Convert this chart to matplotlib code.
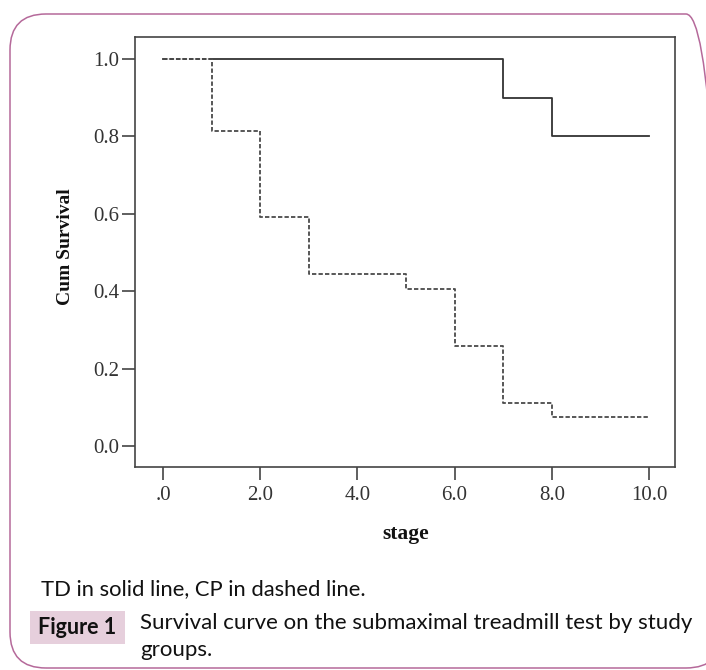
import matplotlib
matplotlib.use('Agg')
import matplotlib.pyplot as plt
from matplotlib.patches import FancyBboxPatch, Rectangle

# Kaplan-Meier steps (stage, cumulative survival)
td_stage = [0, 7, 8, 10]
td_surv = [1.0, 0.9, 0.8, 0.8]
cp_stage = [0, 1, 2, 3, 5, 6, 7, 8, 10]
cp_surv = [1.0, 0.815, 0.593, 0.444, 0.407, 0.259, 0.111, 0.074, 0.074]

x_ticks = [0, 2, 4, 6, 8, 10]
x_labels = ['.0', '2.0', '4.0', '6.0', '8.0', '10.0']
y_ticks = [0.0, 0.2, 0.4, 0.6, 0.8, 1.0]
y_labels = ['0.0', '0.2', '0.4', '0.6', '0.8', '1.0']

W, H = 706, 670
fig = plt.figure(figsize=(W / 100, H / 100), dpi=100)
ax = fig.add_axes([135 / W, (H - 467) / H, 540 / W, 430 / H])

ax.step(td_stage, td_surv, where='post', color='#333333', lw=1.3, zorder=2)
# dashed curve drawn on top, gaps in white like the SPSS output
ax.step(cp_stage, cp_surv, where='post', color='#4a4a4a', lw=1.3,
        linestyle=(0, (2.4, 1.2)), gapcolor='white', zorder=3)

ax.set_xlim(-0.576, 10.535)
ax.set_ylim(-0.054, 1.057)
ax.set_xticks(x_ticks)
ax.set_xticklabels(x_labels)
ax.set_yticks(y_ticks)
ax.set_yticklabels(y_labels)
for s in ax.spines.values():
    s.set_color('#444444')
    s.set_linewidth(1.2)
ax.tick_params(direction='out', length=9.5, width=1.2, color='#444444',
               labelsize=15, labelcolor='#333333')
ax.tick_params(axis='x', pad=4)
ax.tick_params(axis='y', pad=2)
for lab in ax.get_xticklabels() + ax.get_yticklabels():
    lab.set_family('Liberation Serif')
ax.tick_params(top=False, right=False)

fig.text(66 / W, 1 - 246.5 / H, 'Cum Survival', rotation=90, ha='center',
         va='center', family='Liberation Serif', weight='bold', fontsize=14,
         color='#111111')
fig.text(406 / W, 1 - 534 / H, 'stage', ha='center', va='center',
         family='Liberation Serif', weight='bold', fontsize=15.5,
         color='#111111')

# rounded frame and caption
frame = FancyBboxPatch((10, 2), 712, H - 16, boxstyle='round,pad=0,rounding_size=36',
                       transform=None, fill=False, edgecolor='#b5699a', lw=1.1)
fig.patches.append(frame)
box = Rectangle((30, H - 644), 95, 33, transform=None, facecolor='#e6cfdc',
                edgecolor='none')
fig.patches.append(box)

cap_font = 'Lato'
fig.text(41 / W, 1 - 595 / H, 'TD in solid line, CP in dashed line.',
         family=cap_font, fontsize=15.8, va='baseline', color='#111111')
fig.text(77.5 / W, 1 - 628 / H, 'Figure 1', family=cap_font, weight='bold',
         fontsize=15.5, ha='center', va='center', color='#111111')
fig.text(140 / W, 1 - 629 / H,
         'Survival curve on the submaximal treadmill test by study',
         family=cap_font, fontsize=16, va='baseline', color='#111111')
fig.text(140 / W, 1 - 656 / H, 'groups.', family=cap_font, fontsize=16,
         va='baseline', color='#111111')

fig.savefig('out.png', dpi=100)
